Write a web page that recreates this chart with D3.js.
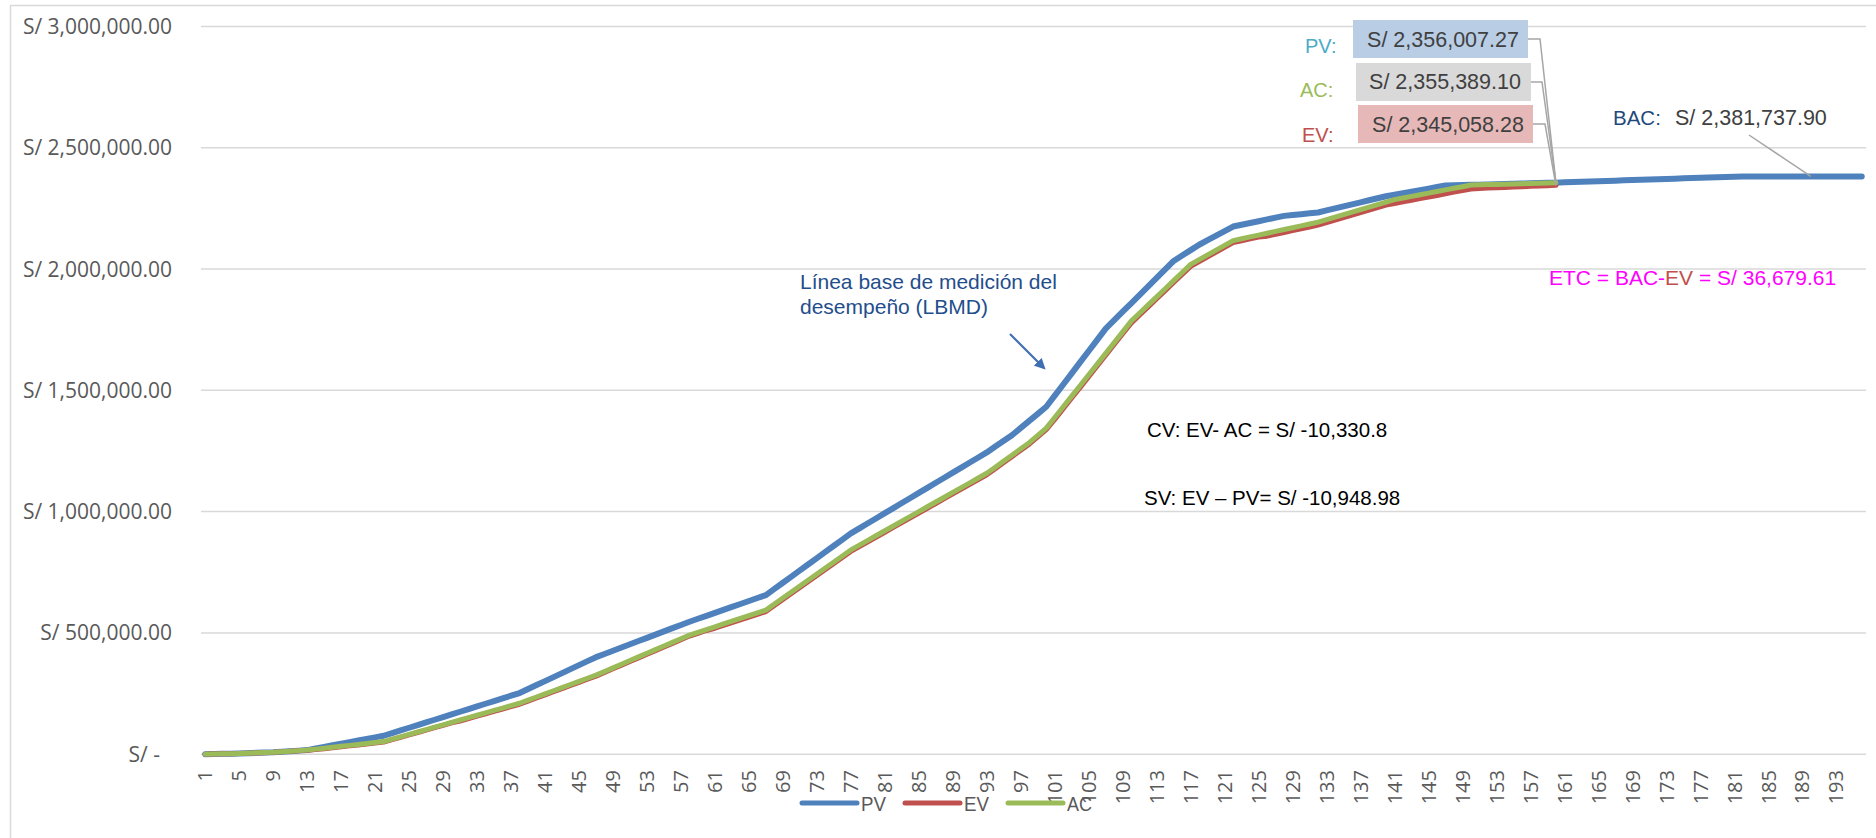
<!DOCTYPE html>
<html>
<head>
<meta charset="utf-8">
<script src="https://cdn.jsdelivr.net/npm/d3@7"></script>
<style>
  html, body { margin: 0; padding: 0; background: #ffffff; }
  svg { display: block; }
</style>
</head>
<body>
<svg id="chart" width="1876" height="838"></svg>
<script>
// ---- Data ---------------------------------------------------------------
const periods = d3.range(1, 197);            // periods 1..196

// Planned value (PV) – full baseline, every period
const pvValues = [
  0, 750, 1500, 2250, 3000, 4250, 5500, 6750, 8000, 10250,
  12500, 14750, 17000, 23600, 30100, 36700, 43200, 49800, 56300, 62900,
  69400, 76000, 87000, 98000, 109000, 120000, 131000, 142000, 153000, 164000,
  175000, 186000, 197000, 208000, 219000, 230000, 241000, 252000, 268400, 284900,
  301300, 317800, 334200, 350700, 367100, 383600, 400000, 413300, 426500, 439800,
  453100, 466400, 479600, 492900, 506200, 519500, 532700, 546000, 558200, 570400,
  582700, 594900, 607100, 619300, 631600, 643800, 656000, 681400, 706800, 732200,
  757600, 783000, 808400, 833800, 859200, 884600, 910000, 930900, 951800, 972600,
  993500, 1014400, 1035300, 1056100, 1077000, 1097900, 1118800, 1139600, 1160500, 1181400,
  1202300, 1223100, 1244000, 1268000, 1292000, 1316000, 1345000, 1374000, 1403000, 1432000,
  1478000, 1524000, 1570000, 1616000, 1662000, 1708000, 1754000, 1788900, 1823800, 1858600,
  1893500, 1928400, 1963300, 1998100, 2033000, 2055300, 2077700, 2100000, 2118800, 2137500,
  2156300, 2175000, 2182300, 2189700, 2197000, 2204300, 2211700, 2219000, 2222500, 2226000,
  2229500, 2233000, 2241400, 2249800, 2258100, 2266500, 2274900, 2283300, 2291600, 2300000,
  2306300, 2312600, 2318900, 2325100, 2331400, 2337700, 2344000, 2344900, 2345800, 2346800,
  2347700, 2348600, 2349500, 2350500, 2351400, 2352300, 2353200, 2354200, 2355100, 2356007.27,
  2357200, 2358300, 2359500, 2360700, 2361900, 2363000, 2364200, 2365400, 2366500, 2367700,
  2368900, 2370000, 2371200, 2372400, 2373600, 2374700, 2375900, 2377100, 2378200, 2379400,
  2380600, 2381737.90, 2381737.90, 2381737.90, 2381737.90, 2381737.90, 2381737.90, 2381737.90, 2381737.90, 2381737.90,
  2381737.90, 2381737.90, 2381737.90, 2381737.90, 2381737.90, 2381737.90
];

// Earned value (EV) – up to the status date (period 160)
const evValues = [
  0, 700, 1400, 2100, 2800, 4000, 5200, 6400, 7600, 9700,
  11800, 13900, 16000, 18900, 22800, 26700, 30600, 34400, 38300, 42200,
  46100, 50000, 59900, 69800, 79600, 89500, 99400, 109300, 119100, 129000,
  136900, 146800, 156600, 166500, 176400, 186300, 196100, 206000, 218900, 231800,
  244700, 257600, 270400, 283300, 296200, 309100, 322000, 337000, 352000, 367000,
  382000, 397000, 412000, 427000, 442000, 457000, 472000, 487000, 498400, 509900,
  519300, 530800, 542200, 553700, 565100, 576600, 588000, 612800, 637600, 662400,
  687200, 712000, 736800, 761600, 786400, 811200, 836000, 855800, 875500, 895300,
  915000, 934800, 954500, 974300, 994000, 1013800, 1033500, 1053300, 1073000, 1092800,
  1112500, 1132300, 1152000, 1177200, 1202400, 1227600, 1252800, 1278000, 1308000, 1338000,
  1380000, 1424000, 1468000, 1512000, 1556000, 1600000, 1644300, 1688500, 1732800, 1777000,
  1810400, 1843900, 1877300, 1910700, 1944100, 1977600, 2011000, 2030600, 2050200, 2069800,
  2089400, 2109000, 2116600, 2124200, 2131800, 2135400, 2143000, 2150600, 2158200, 2165800,
  2173400, 2181000, 2191300, 2201700, 2212000, 2222300, 2232700, 2243000, 2253300, 2263700,
  2270000, 2276700, 2283300, 2290000, 2296700, 2303300, 2310000, 2316700, 2323300, 2330000,
  2331900, 2333400, 2334800, 2336300, 2337700, 2339100, 2340600, 2342000, 2343400, 2345058.28
];

// Actual cost (AC) – up to the status date (period 160)
const acValues = [
  0, 750, 1500, 2250, 3000, 4250, 5500, 6750, 8000, 10250,
  12500, 14750, 17000, 20900, 24800, 28700, 32600, 36400, 40300, 44200,
  48100, 52000, 61900, 71800, 81600, 91500, 101400, 111300, 121100, 131000,
  140900, 150800, 160600, 170500, 180400, 190300, 200100, 210000, 222900, 235800,
  248700, 261600, 274400, 287300, 300200, 313100, 326000, 341000, 356000, 371000,
  386000, 401000, 416000, 431000, 446000, 461000, 476000, 491000, 502400, 513900,
  525300, 536800, 548200, 559700, 571100, 582600, 594000, 618800, 643600, 668400,
  693200, 718000, 742800, 767600, 792400, 817200, 842000, 861800, 881500, 901300,
  921000, 940800, 960500, 980300, 1000000, 1019800, 1039500, 1059300, 1079000, 1098800,
  1118500, 1138300, 1158000, 1183200, 1208400, 1233600, 1258800, 1284000, 1314000, 1344000,
  1388000, 1432000, 1476000, 1520000, 1564000, 1608000, 1652300, 1696500, 1740800, 1785000,
  1818400, 1851900, 1885300, 1918700, 1952100, 1985600, 2019000, 2038600, 2058200, 2077800,
  2097400, 2117000, 2124600, 2132200, 2139800, 2147400, 2155000, 2162600, 2170200, 2177800,
  2185400, 2193000, 2203300, 2213700, 2224000, 2234300, 2244700, 2255000, 2265300, 2275700,
  2286000, 2292700, 2299300, 2306000, 2312700, 2319300, 2326000, 2332700, 2339300, 2346000,
  2346900, 2347900, 2348800, 2349800, 2350700, 2351600, 2352600, 2353500, 2354400, 2355389.10
];

const yTickValues = [0, 500000, 1000000, 1500000, 2000000, 2500000, 3000000];
const xTickLabels = [1, 5, 9, 13, 17, 21, 25, 29, 33, 37, 41, 45, 49, 53, 57, 61, 65, 69, 73, 77,
  81, 85, 89, 93, 97, 101, 105, 109, 113, 117, 121, 125, 129, 133, 137, 141, 145, 149, 153, 157,
  161, 165, 169, 173, 177, 181, 185, 189, 193];

const seriesNames  = ["PV", "EV", "AC"];
const seriesColors = { PV: "#4F81BD", EV: "#C0504D", AC: "#9BBB59" };
const seriesWidths = { PV: 6, EV: 5, AC: 5 };

const statusPeriod = 160;   // status date where EV / AC stop
const bacPeriod    = 190;   // point the BAC callout refers to

// ---- Layout -------------------------------------------------------------
const W = 1876, H = 838;
const plot = { left: 201, right: 1866, top: 26.4, bottom: 754.2 };

const svg = d3.select("#chart");
svg.append("rect").attr("x", 0).attr("y", 0).attr("width", W).attr("height", H).attr("fill", "#ffffff");
// chart area frame
svg.append("rect").attr("x", 10.5).attr("y", 5.5).attr("width", W + 20).attr("height", H + 20)
  .attr("fill", "none").attr("stroke", "#d9d9d9").attr("stroke-width", 1.5);

const x = d3.scalePoint().domain(periods).range([plot.left, plot.right]).padding(0.5);
const y = d3.scaleLinear().domain([0, 3000000]).range([plot.bottom, plot.top]);

const money = d3.format(",.2f");
const sansUI = "'Open Sans', 'Noto Sans', sans-serif";
const sansAr = "'Liberation Sans', Arial, sans-serif";

// ---- Gridlines & value axis -------------------------------------------
svg.append("g").selectAll("line").data(yTickValues).join("line")
  .attr("x1", plot.left).attr("x2", plot.right)
  .attr("y1", d => y(d)).attr("y2", d => y(d))
  .attr("stroke", "#d9d9d9").attr("stroke-width", 1.5);

const yLab = svg.append("g").attr("font-family", sansUI).attr("font-size", 21).attr("fill", "#595959");
yLab.selectAll("text").data(yTickValues).join("text")
  .attr("x", 172).attr("y", d => y(d)).attr("dy", "0.36em")
  .attr("text-anchor", "end")
  .text(d => d === 0 ? "S/ -" : "S/ " + money(d));
// accounting format keeps the dash of the zero label two digits in from the edge
yLab.selectAll("text").filter(d => d === 0).attr("dx", -12);

// ---- Category axis ----------------------------------------------------
svg.append("g").attr("font-family", sansUI).attr("font-size", 20).attr("fill", "#595959")
  .selectAll("text").data(xTickLabels).join("text")
  .attr("transform", d => `translate(${x(d)},770) rotate(-90)`)
  .attr("text-anchor", "end").attr("dy", "0.36em")
  .text(d => d);

// ---- Series lines -----------------------------------------------------
const seriesData = {
  PV: pvValues.map((v, i) => [periods[i], v]),
  EV: evValues.map((v, i) => [periods[i], v]),
  AC: acValues.map((v, i) => [periods[i], v])
};
const line = d3.line().x(d => x(d[0])).y(d => y(d[1]));
seriesNames.forEach(name => {
  svg.append("path").datum(seriesData[name])
    .attr("d", line).attr("fill", "none")
    .attr("stroke", seriesColors[name]).attr("stroke-width", seriesWidths[name])
    .attr("stroke-linejoin", "round").attr("stroke-linecap", "round");
});

// ---- Legend -------------------------------------------------------------
const legendX = [802, 905, 1008];
const legend = svg.append("g");
seriesNames.forEach((name, i) => {
  legend.append("line").attr("x1", legendX[i]).attr("x2", legendX[i] + 55)
    .attr("y1", 803).attr("y2", 803)
    .attr("stroke", seriesColors[name]).attr("stroke-width", 5).attr("stroke-linecap", "round");
  legend.append("text").attr("x", legendX[i] + 59).attr("y", 811)
    .attr("font-family", sansAr).attr("font-size", 20).attr("fill", "#595959")
    .attr("textLength", 25).attr("lengthAdjust", "spacingAndGlyphs")
    .text(name);
});

// ---- Status-date callouts ----------------------------------------------
const sIdx = statusPeriod - 1;
const callouts = [
  { tag: "PV:", tagColor: "#4BACC6", tagX: 1305, tagY: 53, box: [1353, 20, 175, 38], fill: "#B9CDE5",
    textX: 1443, textY: 47, elbow: [1540, 39], value: pvValues[sIdx] },
  { tag: "AC:", tagColor: "#9BBB59", tagX: 1300, tagY: 97, box: [1356, 63, 175, 38], fill: "#D9D9D9",
    textX: 1445, textY: 89, elbow: [1542, 82], value: acValues[sIdx] },
  { tag: "EV:", tagColor: "#C0504D", tagX: 1302, tagY: 142, box: [1358, 105, 175, 38], fill: "#E6B9B8",
    textX: 1448, textY: 132, elbow: [1545, 124], value: evValues[sIdx] }
];
const cg = svg.append("g");
callouts.forEach(c => {
  cg.append("polyline")
    .attr("points", [[c.box[0] + c.box[2], c.elbow[1]], c.elbow, [x(statusPeriod), y(c.value)]].map(p => p.join(",")).join(" "))
    .attr("fill", "none").attr("stroke", "#A6A6A6").attr("stroke-width", 1.5);
  cg.append("rect").attr("x", c.box[0]).attr("y", c.box[1]).attr("width", c.box[2]).attr("height", c.box[3])
    .attr("fill", c.fill);
  cg.append("text").attr("x", c.textX).attr("y", c.textY).attr("text-anchor", "middle")
    .attr("font-family", sansAr).attr("font-size", 21.5).attr("fill", "#404040")
    .text("S/ " + money(c.value));
  cg.append("text").attr("x", c.tagX).attr("y", c.tagY)
    .attr("font-family", sansAr).attr("font-size", 20).attr("fill", c.tagColor)
    .text(c.tag);
});

// BAC callout
const bacValue = pvValues[pvValues.length - 1];
cg.append("line").attr("x1", 1749).attr("y1", 135).attr("x2", x(bacPeriod)).attr("y2", y(pvValues[bacPeriod - 1]))
  .attr("stroke", "#A6A6A6").attr("stroke-width", 1.5);
cg.append("text").attr("x", 1613).attr("y", 125)
  .attr("font-family", sansAr).attr("font-size", 20.5).attr("fill", "#1F497D").text("BAC:");
cg.append("text").attr("x", 1675).attr("y", 125)
  .attr("font-family", sansAr).attr("font-size", 21.5).attr("fill", "#404040").text("S/ " + money(bacValue));

// ---- Notes ----------------------------------------------------------------
const etc = svg.append("text").attr("x", 1549).attr("y", 285)
  .attr("font-family", sansAr).attr("font-size", 21).attr("fill", "#FF00FF");
etc.append("tspan").text("ETC = BAC-");
etc.append("tspan").attr("fill", "#C0504D").text("EV");
etc.append("tspan").text(" = S/ 36,679.61");

svg.append("text").attr("x", 1147).attr("y", 437)
  .attr("font-family", sansAr).attr("font-size", 20.5).attr("fill", "#000000")
  .text("CV: EV- AC = S/ -10,330.8");
svg.append("text").attr("x", 1144).attr("y", 505)
  .attr("font-family", sansAr).attr("font-size", 20.5).attr("fill", "#000000")
  .text("SV: EV \u2013 PV= S/ -10,948.98");

const lbmd = svg.append("text").attr("font-family", sansAr).attr("font-size", 21).attr("fill", "#1F4E8C");
lbmd.append("tspan").attr("x", 800).attr("y", 289).text("Línea base de medición del");
lbmd.append("tspan").attr("x", 800).attr("y", 314).text("desempeño (LBMD)");

// arrow pointing at the baseline curve
svg.append("defs").append("marker")
  .attr("id", "arrowHead").attr("viewBox", "0 0 10 10").attr("refX", 8).attr("refY", 5)
  .attr("markerWidth", 5).attr("markerHeight", 5).attr("orient", "auto")
  .append("path").attr("d", "M0,0 L10,5 L0,10 z").attr("fill", "#3F6EB2");
svg.append("line").attr("x1", 1010).attr("y1", 334).attr("x2", 1044).attr("y2", 368)
  .attr("stroke", "#3F6EB2").attr("stroke-width", 2.2).attr("marker-end", "url(#arrowHead)");
</script>
</body>
</html>
